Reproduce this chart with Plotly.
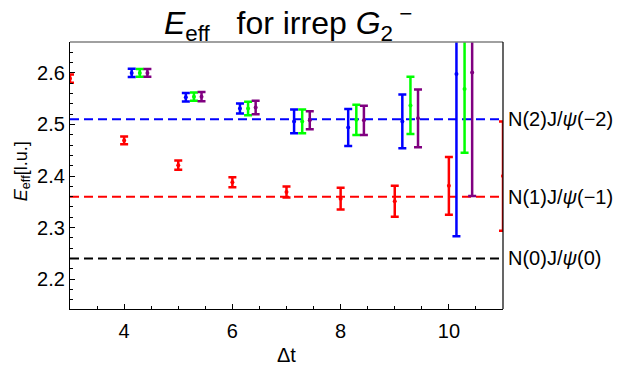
import plotly.graph_objects as go

# ---- data ----
t_red = [3, 4, 5, 6, 7, 8, 9, 10, 11]
e_red = [2.589, 2.469, 2.421, 2.388, 2.369, 2.356, 2.351, 2.381, 2.400]
err_red = [0.008, 0.0075, 0.009, 0.0096, 0.0105, 0.021, 0.030, 0.056, 0.106]

t_set = [4, 5, 6, 7, 8, 9, 10]
e_blue = [2.600, 2.553, 2.531, 2.506, 2.494, 2.506, 2.598]
err_blue = [0.008, 0.0082, 0.0098, 0.023, 0.036, 0.052, 0.315]
e_green = [2.600, 2.554, 2.531, 2.506, 2.509, 2.537, 2.569]
err_green = [0.0075, 0.0082, 0.013, 0.023, 0.0295, 0.0556, 0.124]
e_purple = [2.600, 2.554, 2.533, 2.508, 2.508, 2.512, 2.601]
err_purple = [0.0075, 0.0089, 0.013, 0.0175, 0.0285, 0.056, 0.24]
offsets = [0.0, 0.14, 0.29, 0.43]

levels = [2.51, 2.36, 2.24]
level_labels = ["N(2)J/<i>ψ</i>(−2)", "N(1)J/<i>ψ</i>(−1)", "N(0)J/<i>ψ</i>(0)"]
level_colors = ["#0000FF", "#FF0000", "#000000"]

title_text = ("<i>E</i><sub>eff</sub>&nbsp;&nbsp;&nbsp;for irrep&nbsp;"
              "<i>G</i><sub>2</sub><sup>&nbsp;−</sup>")

x_range = [3, 11]
y_range = [2.142, 2.66]

FONT = "Liberation Sans, Arial, sans-serif"

fig = go.Figure()

for lv, col in zip(levels, level_colors):
    fig.add_trace(go.Scatter(x=x_range, y=[lv, lv], mode="lines",
                             line=dict(color=col, width=2, dash="9px,5px"),
                             showlegend=False, hoverinfo="skip"))

series = [
    (t_red, e_red, err_red, "#FF0000", offsets[0]),
    (t_set, e_blue, err_blue, "#0000FF", offsets[1]),
    (t_set, e_green, err_green, "#00FF00", offsets[2]),
    (t_set, e_purple, err_purple, "#800080", offsets[3]),
]
for ts, es, errs, col, off in series:
    fig.add_trace(go.Scatter(
        x=[t + off for t in ts], y=es, mode="markers",
        marker=dict(color=col, size=4),
        error_y=dict(type="data", array=errs, visible=True, color=col,
                     thickness=2.5, width=4),
        showlegend=False))

annotations = []
for lv, lab in zip(levels, level_labels):
    annotations.append(dict(x=11, y=lv, xref="x", yref="y", text=lab,
                            showarrow=False, xanchor="left", yanchor="middle",
                            xshift=3, font=dict(family=FONT, size=20, color="black")))
annotations.append(dict(x=0.2125, y=1.07, xref="paper", yref="paper",
                        text=title_text,
                        showarrow=False, xanchor="left", yanchor="middle",
                        font=dict(family=FONT, size=32, color="black")))
annotations.append(dict(x=0.501, y=-0.171, xref="paper", yref="paper", text="Δt",
                        showarrow=False, xanchor="center", yanchor="middle",
                        font=dict(family=FONT, size=20, color="black")))
annotations.append(dict(x=-0.111, y=0.516, xref="paper", yref="paper",
                        text="<i>E</i><sub>eff</sub>[l.u.]", textangle=-90,
                        showarrow=False, xanchor="center", yanchor="middle",
                        font=dict(family=FONT, size=18, color="black")))

fig.update_layout(
    width=617, height=367,
    margin=dict(l=70, r=114, t=41.5, b=57.7),
    paper_bgcolor="white", plot_bgcolor="white",
    font=dict(family=FONT, size=19, color="black"),
    annotations=annotations,
    shapes=[
        dict(type="line", xref="paper", yref="paper", x0=0, x1=1, y0=1, y1=1,
             line=dict(color="#808080", width=1.5)),
        dict(type="line", xref="paper", yref="paper", x0=1, x1=1, y0=0, y1=1,
             line=dict(color="black", width=1.2)),
    ],
)
fig.update_xaxes(range=x_range, tick0=0, dtick=2, ticks="inside", ticklen=5,
                 tickcolor="black", showline=True, linecolor="black", linewidth=1.2,
                 showgrid=False, zeroline=False, ticklabelstandoff=4,
                 tickfont=dict(family=FONT, size=20),
                 minor=dict(dtick=0.5, ticks="inside", ticklen=3, tickcolor="black"))
fig.update_yaxes(range=y_range, tick0=0, dtick=0.1, tickformat=".1f", ticks="inside",
                 ticklen=5, tickcolor="black", showline=True, linecolor="black",
                 linewidth=1.2, showgrid=False, zeroline=False,
                 tickfont=dict(family=FONT, size=20),
                 minor=dict(dtick=0.02, ticks="inside", ticklen=3, tickcolor="black"))

fig.write_html("out.html", config={"displayModeBar": False},
               post_script="document.body.style.margin='0px';")
